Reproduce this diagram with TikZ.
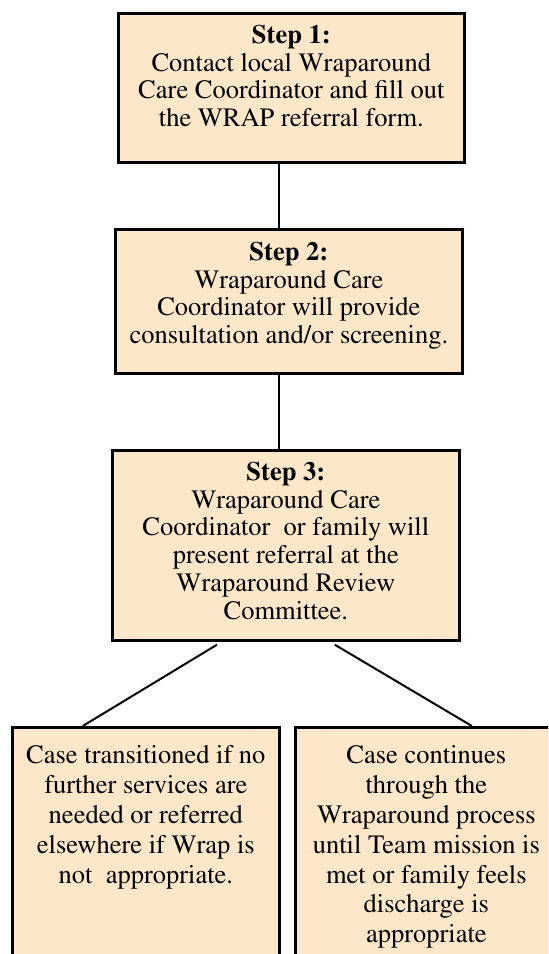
\documentclass[tikz,border=0pt]{standalone}
\usepackage[T1]{fontenc}
\usepackage{mathptmx}
\usepackage{color}
\definecolor{mywheat}{RGB}{252,232,200}
\usetikzlibrary{calc,positioning}
\begin{document}
\begin{tikzpicture}[
  x=1pt, y=1pt,
  mybox/.style={
    draw,
    line width=1.35pt,
    fill=mywheat,
    anchor=north west,
    inner sep=0pt
    },
  mytext/.style={
    align=center,
    inner sep=0pt,
    font=\fontsize{13.25}{13.9}\selectfont
    },
  mycase/.style={
    mytext,
    font=\fontsize{13.25}{14.9}\selectfont
    },
  myline/.style={
    line width=1pt
    }
]
\useasboundingbox (0,0) rectangle (274,-477);
\clip (0,0) rectangle (274,-477);

\node[mybox, minimum width=173, minimum height=74.5] (step1) at (58.5,-6) {};
\node[mybox, minimum width=173.5, minimum height=72] (step2) at (57,-114) {};
\node[mybox, minimum width=173.5, minimum height=95] (step3) at (55.5,-224.5) {};
\node[mybox, minimum width=133.5, minimum height=130] (case1) at (5.5,-363) {};
\node[mybox, minimum width=131, minimum height=130] (case2) at (147,-363) {};

\node[mytext, below=6.3pt of step1.north] (text1)
  {\textbf{Step 1:}\\
   Contact local Wraparound\\
   Care Coordinator and fill out\\
   the WRAP referral form.};
\node[mytext, below=6.8pt of step2.north] (text2)
  {\textbf{Step 2:}\\
   Wraparound Care\\
   Coordinator will provide\\
   consultation and/or screening.};
\node[mytext, below=6.3pt of step3.north] (text3)
  {\textbf{Step 3:}\\
   Wraparound Care\\
   Coordinator\ \ or family will\\
   present referral at the\\
   Wraparound Review\\
   Committee.};
\node[mycase, below=9.8pt of case1.north] (text4)
  {Case transitioned if no\\
   further services are\\
   needed or referred\\
   elsewhere if Wrap is\\
   not\ \ appropriate.};
\node[mycase, below=9.8pt of case2.north] (text5)
  {Case continues\\
   through the\\
   Wraparound process\\
   until Team mission is\\
   met or family feels\\
   discharge is\\
   appropriate};

\coordinate (spine) at (139.5,0);
\draw[myline] (step1.south -| spine) -- (step2.north -| spine);
\draw[myline] (step2.south -| spine) -- (step3.north -| spine);
\draw[myline] ($(step3.south west)!0.303!(step3.south east)+(0,-1.5)$) -- ($(case1.north west)!0.266!(case1.north east)$);
\draw[myline] ($(step3.south west)!0.64!(step3.south east)+(0,-1.5)$) -- ($(case2.north west)!0.672!(case2.north east)$);

\end{tikzpicture}
\end{document}
